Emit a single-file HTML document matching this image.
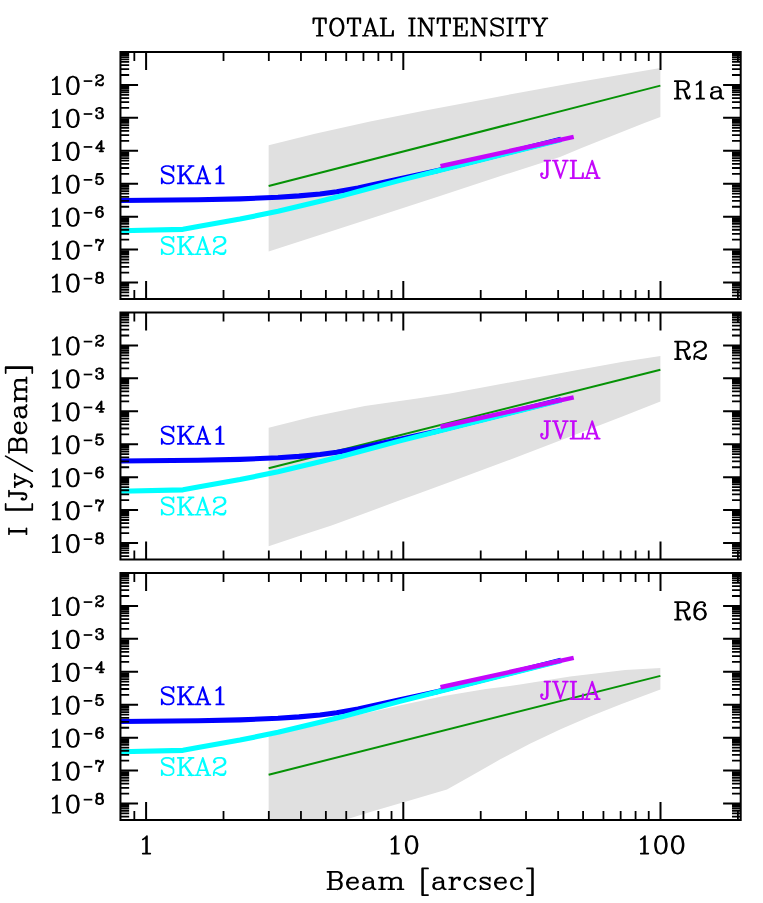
<!DOCTYPE html>
<html><head><meta charset="utf-8"><title>Total Intensity</title>
<style>html,body{margin:0;padding:0;background:#fff;}svg{display:block;}</style>
</head><body>
<svg width="763" height="903" viewBox="0 0 763 903">
<rect width="763" height="903" fill="#fff"/>
<defs><path id="h0" d="M6 -17 8 -18 11 -21 11 0M10 0 10 -20M15 0 6 0M24 -17 26 -20 29 -21 31 -21 34 -20 36 -17 37 -12 37 -9 36 -4 34 -1 31 0 29 0 26 -1 24 -4 23 -9 23 -12 24 -17M29 0 27 -1 26 -2 25 -4 24 -9 24 -12 25 -17 26 -19 27 -20 29 -21M31 0 33 -1 34 -2 35 -4 36 -9 36 -12 35 -17 34 -19 33 -20 31 -21" fill="none" stroke-linecap="round" stroke-linejoin="round" vector-effect="non-scaling-stroke"/><path id="h1" d="M12 -21 14 -20 15 -18 15 -15 14 -13 12 -12 15 -13 16 -15 16 -18 15 -20 12 -21 8 -21 5 -20 4 -18 4 -15 5 -13 8 -12 12 -12 15 -11 16 -10 17 -8 17 -4 16 -2 15 -1 12 0 8 0 5 -1 4 -2 3 -4 3 -8 4 -10 5 -11 8 -12 6 -11 5 -10 4 -8 4 -4 5 -2 6 -1 8 0M12 0 14 -1 15 -2 16 -4 16 -8 15 -10 14 -11 12 -12M8 -12 6 -13 5 -15 5 -18 6 -20 8 -21" fill="none" stroke-linecap="round" stroke-linejoin="round" vector-effect="non-scaling-stroke"/><path id="h2" d="M3 -15 3 -21M10 0 10 -5 11 -8 12 -10 16 -15 11 -10 10 -8 9 -5 9 0M4 -19 6 -20 8 -20 13 -18 8 -21 6 -21 4 -19 3 -17M16 -15 17 -18 17 -21 16 -19 15 -18 13 -18" fill="none" stroke-linecap="round" stroke-linejoin="round" vector-effect="non-scaling-stroke"/><path id="h3" d="M15 -18 14 -17 15 -16 16 -17 16 -18 15 -20 13 -21 10 -21 7 -20 5 -18 4 -16 3 -12 3 -6 4 -3 6 -1 9 0 11 0 14 -1 16 -3 17 -6 17 -7 16 -10 14 -12 11 -13 10 -13 7 -12 5 -10 4 -7M9 0 7 -1 5 -3 4 -6 4 -12 5 -16 6 -18 8 -20 10 -21M11 0 13 -1 15 -3 16 -6 16 -7 15 -10 13 -12 11 -13" fill="none" stroke-linecap="round" stroke-linejoin="round" vector-effect="non-scaling-stroke"/><path id="h4" d="M4 -4 5 -5 4 -6 3 -5 3 -4 4 -2 5 -1 8 0 11 0 14 -1 16 -3 17 -6 17 -8 16 -11 14 -13 11 -14 8 -14 5 -13 3 -11 5 -21 15 -21 10 -20 5 -20M11 0 13 -1 15 -3 16 -6 16 -8 15 -11 13 -13 11 -14" fill="none" stroke-linecap="round" stroke-linejoin="round" vector-effect="non-scaling-stroke"/><path id="h5" d="M18 -6 2 -6 13 -21 13 0M12 0 12 -19M16 0 9 0" fill="none" stroke-linecap="round" stroke-linejoin="round" vector-effect="non-scaling-stroke"/><path id="h6" d="M4 -4 5 -5 4 -6 3 -5 3 -4 4 -2 5 -1 8 0 12 0 14 -1 15 -2 16 -4 16 -7 15 -10M4 -17 5 -16 4 -15 3 -16 3 -17 4 -19 5 -20 8 -21 12 -21 15 -20 16 -18 16 -15 15 -13 12 -12 9 -12M12 0 15 -1 16 -2 17 -4 17 -7 16 -9 14 -11 12 -12 14 -13 15 -15 15 -18 14 -20 12 -21" fill="none" stroke-linecap="round" stroke-linejoin="round" vector-effect="non-scaling-stroke"/><path id="h7" d="M4 -17 5 -16 4 -15 3 -16 3 -17 4 -19 5 -20 8 -21 12 -21 14 -20 15 -19 16 -17 16 -15 15 -13 12 -11 6 -8 4 -6 3 -3 3 0M17 -3 16 -2 14 -1 11 -1 6 -3 11 0 15 0 16 -1 17 -3 17 -5M6 -3 4 -3 3 -2M12 -21 15 -20 16 -19 17 -17 17 -15 16 -13 13 -11 6 -8" fill="none" stroke-linecap="round" stroke-linejoin="round" vector-effect="non-scaling-stroke"/><path id="h8" d="M26 0 26 -21M25 0 25 -21M59 0 52 -21 45 0M68 -17 70 -18 73 -21 73 0M72 0 72 -20M58 0 52 -18M26 -8 39 -21M39 0 31 -12M38 0 30 -12M56 -6 47 -6M77 0 68 0M29 -21 22 -21M29 0 22 0M49 0 43 0M41 -21 35 -21M61 0 55 0M41 0 35 0M17 -21 16 -18 17 -15 17 -21M3 -6 4 -3 3 0 3 -6M4 -3 6 -1 9 0 12 0 15 -1 17 -3 17 -7 16 -9 15 -10 13 -11 7 -13 5 -14 3 -16 3 -18 5 -20 8 -21 11 -21 14 -20 16 -18M17 -7 15 -9 13 -10 7 -12 5 -13 4 -14 3 -16" fill="none" stroke-linecap="round" stroke-linejoin="round" vector-effect="non-scaling-stroke"/><path id="h9" d="M26 0 26 -21M25 0 25 -21M59 0 52 -21 45 0M58 0 52 -18M26 -8 39 -21M39 0 31 -12M38 0 30 -12M56 -6 47 -6M29 -21 22 -21M29 0 22 0M49 0 43 0M41 -21 35 -21M61 0 55 0M41 0 35 0M66 -17 67 -16 66 -15 65 -16 65 -17 66 -19 67 -20 70 -21 74 -21 76 -20 77 -19 78 -17 78 -15 77 -13 74 -11 68 -8 66 -6 65 -3 65 0M79 -3 78 -2 76 -1 73 -1 68 -3 73 0 77 0 78 -1 79 -3 79 -5M68 -3 66 -3 65 -2M17 -21 16 -18 17 -15 17 -21M3 -6 4 -3 3 0 3 -6M4 -3 6 -1 9 0 12 0 15 -1 17 -3 17 -7 16 -9 15 -10 13 -11 7 -13 5 -14 3 -16 3 -18 5 -20 8 -21 11 -21 14 -20 16 -18M17 -7 15 -9 13 -10 7 -12 5 -13 4 -14 3 -16M74 -21 77 -20 78 -19 79 -17 79 -15 78 -13 75 -11 68 -8" fill="none" stroke-linecap="round" stroke-linejoin="round" vector-effect="non-scaling-stroke"/><path id="h10" d="M40 0 40 -21M41 0 41 -21M70 0 63 -21 56 0M32 -21 25 0 18 -21M69 0 63 -18M25 -3 19 -21M3 -4 4 -5 3 -6 2 -5 2 -3 3 -1 5 0 7 0 8 -1 9 -4 9 -21M7 0 9 -1 10 -4 10 -21M51 0 52 -6 52 0 37 0M67 -6 58 -6M13 -21 6 -21M44 -21 37 -21M34 -21 28 -21M60 0 54 0M22 -21 16 -21M72 0 66 0" fill="none" stroke-linecap="round" stroke-linejoin="round" vector-effect="non-scaling-stroke"/><path id="h11" d="M6 0 6 -21M5 0 5 -21M28 -17 30 -18 33 -21 33 0M32 0 32 -20M6 -11 14 -11 17 -12 18 -13 19 -15 19 -17 18 -19 17 -20 14 -21 2 -21M37 0 28 0M9 0 2 0M20 -3 20 -2 19 0 17 0 16 -1 14 -8 13 -10 11 -11M56 -10 55 -9 49 -8 46 -7 45 -5 45 -3 46 -1 49 0 52 0 54 -1 56 -3 56 -12 55 -13 53 -14 49 -14 47 -13 46 -12 46 -11 47 -11 47 -12M56 -3 57 -1 59 0 60 0M59 0 58 -1 57 -3 57 -10 56 -12M20 -2 19 -1 18 -1 17 -2 14 -9 13 -10M14 -11 16 -12 17 -13 18 -15 18 -17 17 -19 16 -20 14 -21M49 0 47 -1 46 -3 46 -5 47 -7 49 -8" fill="none" stroke-linecap="round" stroke-linejoin="round" vector-effect="non-scaling-stroke"/><path id="h12" d="M6 0 6 -21M5 0 5 -21M6 -11 14 -11 17 -12 18 -13 19 -15 19 -17 18 -19 17 -20 14 -21 2 -21M9 0 2 0M26 -17 27 -16 26 -15 25 -16 25 -17 26 -19 27 -20 30 -21 34 -21 36 -20 37 -19 38 -17 38 -15 37 -13 34 -11 28 -8 26 -6 25 -3 25 0M39 -3 38 -2 36 -1 33 -1 28 -3 33 0 37 0 38 -1 39 -3 39 -5M20 -3 20 -2 19 0 17 0 16 -1 14 -8 13 -10 11 -11M28 -3 26 -3 25 -2M20 -2 19 -1 18 -1 17 -2 14 -9 13 -10M34 -21 37 -20 38 -19 39 -17 39 -15 38 -13 35 -11 28 -8M14 -11 16 -12 17 -13 18 -15 18 -17 17 -19 16 -20 14 -21" fill="none" stroke-linecap="round" stroke-linejoin="round" vector-effect="non-scaling-stroke"/><path id="h13" d="M6 0 6 -21M5 0 5 -21M6 -11 14 -11 17 -12 18 -13 19 -15 19 -17 18 -19 17 -20 14 -21 2 -21M9 0 2 0M37 -18 36 -17 37 -16 38 -17 38 -18 37 -20 35 -21 32 -21 29 -20 27 -18 26 -16 25 -12 25 -6 26 -3 28 -1 31 0 33 0 36 -1 38 -3 39 -6 39 -7 38 -10 36 -12 33 -13 32 -13 29 -12 27 -10 26 -7M20 -3 20 -2 19 0 17 0 16 -1 14 -8 13 -10 11 -11M20 -2 19 -1 18 -1 17 -2 14 -9 13 -10M31 0 29 -1 27 -3 26 -6 26 -12 27 -16 28 -18 30 -20 32 -21M33 0 35 -1 37 -3 38 -6 38 -7 37 -10 35 -12 33 -13M14 -11 16 -12 17 -13 18 -15 18 -17 17 -19 16 -20 14 -21" fill="none" stroke-linecap="round" stroke-linejoin="round" vector-effect="non-scaling-stroke"/><path id="h14" d="M131 -19 143 0 143 -21M194 -19 206 0 206 -21M173 0 173 -21M9 0 9 -21M10 0 10 -21M50 0 50 -21M51 0 51 -21M77 0 70 -21 63 0M85 0 85 -21M86 0 86 -21M119 0 119 -21M120 0 120 -21M130 0 130 -21M157 0 157 -21M158 0 158 -21M172 0 172 -21M193 0 193 -21M236 0 236 -21M237 0 237 -21M251 0 251 -21M252 0 252 -21M127 -21 131 -21 143 -2M190 -21 194 -21 206 -2M76 0 70 -18M184 -21 185 -15 185 -21 169 -21M184 0 185 -6 185 0 169 0M96 0 97 -6 97 0 82 0M279 -21 272 -10 265 -21M271 0 271 -10 264 -21M272 -10 272 0M74 -6 65 -6M179 -7 179 -15M16 -21 17 -15 17 -21 2 -21 2 -15 3 -21M57 -21 58 -15 58 -21 43 -21 43 -15 44 -21M164 -21 165 -15 165 -21 150 -21 150 -15 151 -21M258 -21 259 -15 259 -21 244 -21 244 -15 245 -21M89 -21 82 -21M123 -21 116 -21M240 -21 233 -21M13 0 6 0M54 0 47 0M123 0 116 0M161 0 154 0M240 0 233 0M255 0 248 0M275 0 268 0M146 -21 140 -21M209 -21 203 -21M67 0 61 0M133 0 127 0M196 0 190 0M179 -11 173 -11M281 -21 275 -21M79 0 73 0M268 -21 262 -21M228 -21 227 -18 228 -15 228 -21M214 -6 215 -3 214 0 214 -6M215 -3 217 -1 220 0 223 0 226 -1 228 -3 228 -7 227 -9 226 -10 224 -11 218 -13 216 -14 214 -16 214 -18 216 -20 219 -21 222 -21 225 -20 227 -18M228 -7 226 -9 224 -10 218 -12 216 -13 215 -14 214 -16M23 -16 24 -18 26 -20 29 -21 31 -21 34 -20 36 -18 37 -16 38 -12 38 -9 37 -5 36 -3 34 -1 31 0 29 0 26 -1 24 -3 23 -5 22 -9 22 -12 23 -16M29 0 27 -1 25 -3 24 -5 23 -9 23 -12 24 -16 25 -18 27 -20 29 -21M31 0 33 -1 35 -3 36 -5 37 -9 37 -12 36 -16 35 -18 33 -20 31 -21" fill="none" stroke-linecap="round" stroke-linejoin="round" vector-effect="non-scaling-stroke"/><path id="h15" d="M6 -17 8 -18 11 -21 11 0M10 0 10 -20M15 0 6 0" fill="none" stroke-linecap="round" stroke-linejoin="round" vector-effect="non-scaling-stroke"/><path id="h16" d="M6 -17 8 -18 11 -21 11 0M10 0 10 -20M15 0 6 0M24 -17 26 -20 29 -21 31 -21 34 -20 36 -17 37 -12 37 -9 36 -4 34 -1 31 0 29 0 26 -1 24 -4 23 -9 23 -12 24 -17M29 0 27 -1 26 -2 25 -4 24 -9 24 -12 25 -17 26 -19 27 -20 29 -21M31 0 33 -1 34 -2 35 -4 36 -9 36 -12 35 -17 34 -19 33 -20 31 -21M44 -17 46 -20 49 -21 51 -21 54 -20 56 -17 57 -12 57 -9 56 -4 54 -1 51 0 49 0 46 -1 44 -4 43 -9 43 -12 44 -17M49 0 47 -1 46 -2 45 -4 44 -9 44 -12 45 -17 46 -19 47 -20 49 -21M51 0 53 -1 54 -2 55 -4 56 -9 56 -12 55 -17 54 -19 53 -20 51 -21" fill="none" stroke-linecap="round" stroke-linejoin="round" vector-effect="non-scaling-stroke"/><path id="h17" d="M115 7 115 -25M244 7 244 -25M6 0 6 -21M5 0 5 -21M146 -14 150 -14 150 0M66 0 66 -14M63 -14 67 -14 67 0M149 0 149 -14M6 -11 14 -11 17 -12 18 -13 19 -15 19 -17 18 -19 17 -20 14 -21 2 -21M14 -21 16 -20 17 -19 18 -17 18 -15 17 -13 16 -12 14 -11 17 -10 18 -9 19 -7 19 -4 18 -2 17 -1 14 0 2 0M67 -11 69 -13 72 -14 74 -14 77 -13 78 -11 78 0M74 -14 76 -13 77 -11 77 0M89 0 89 -11 88 -13 85 -14 87 -13 88 -11 88 0M121 7 114 7 114 -25 121 -25M238 7 245 7 245 -25 238 -25M70 0 63 0M81 0 74 0M92 0 85 0M153 0 146 0M38 -3 36 -1 33 0 31 0 28 -1 26 -3 25 -6 25 -8 26 -11 28 -13 31 -14 34 -14 36 -13 37 -11 37 -8M213 -3 211 -1 208 0 206 0 203 -1 201 -3 200 -6 200 -8 201 -11 203 -13 206 -14 209 -14 211 -13 212 -11 212 -8M158 -13 157 -12 158 -11 159 -12 159 -13 158 -14 155 -14 153 -13 151 -11 150 -8M176 -11 175 -10 176 -9 177 -10 177 -11 175 -13 173 -14 170 -14 167 -13 165 -11 164 -8 164 -6 165 -3 167 -1 170 0 172 0 175 -1 177 -3M231 -11 230 -10 231 -9 232 -10 232 -11 230 -13 228 -14 225 -14 222 -13 220 -11 219 -8 219 -6 220 -3 222 -1 225 0 227 0 230 -1 232 -3M55 -10 54 -9 48 -8 45 -7 44 -5 44 -3 45 -1 48 0 51 0 53 -1 55 -3 55 -12 54 -13 52 -14 48 -14 46 -13 45 -12 45 -11 46 -11 46 -12M138 -10 137 -9 131 -8 128 -7 127 -5 127 -3 128 -1 131 0 134 0 136 -1 138 -3 138 -12 137 -13 135 -14 131 -14 129 -13 128 -12 128 -11 129 -11 129 -12M55 -3 56 -1 58 0 59 0M138 -3 139 -1 141 0 142 0M184 -2 183 -4 183 0 184 -2 185 -1 187 0 191 0 193 -1 194 -2 194 -5 193 -6 184 -10 183 -11M193 -12 194 -14 194 -10 193 -12 192 -13 190 -14 186 -14 184 -13 183 -12 183 -10 184 -9 193 -5 194 -4M31 -14 29 -13 27 -11 26 -8 38 -8 38 -10 37 -12 36 -13M206 -14 204 -13 202 -11 201 -8 213 -8 213 -10 212 -12 211 -13M58 0 57 -1 56 -3 56 -10 55 -12M141 0 140 -1 139 -3 139 -10 138 -12M78 -11 80 -13 83 -14 85 -14M170 0 168 -1 166 -3 165 -6 165 -8 166 -11 168 -13 170 -14M225 0 223 -1 221 -3 220 -6 220 -8 221 -11 223 -13 225 -14M14 0 16 -1 17 -2 18 -4 18 -7 17 -9 16 -10 14 -11M31 0 29 -1 27 -3 26 -6 26 -8M206 0 204 -1 202 -3 201 -6 201 -8M48 0 46 -1 45 -3 45 -5 46 -7 48 -8M131 0 129 -1 128 -3 128 -5 129 -7 131 -8" fill="none" stroke-linecap="round" stroke-linejoin="round" vector-effect="non-scaling-stroke"/><path id="h18" d="M32 7 32 -25M200 7 200 -25M77 7 95 -25M103 0 103 -21M5 0 5 -21M6 0 6 -21M102 0 102 -21M44 -4 45 -5 44 -6 43 -5 43 -3 44 -1 46 0 48 0 49 -1 50 -4 50 -21M48 0 50 -1 51 -4 51 -21M65 2 72 -14M163 0 163 -14M160 -14 164 -14 164 0M60 6 59 5 58 6 59 7 60 7 62 6 64 4 66 0 60 -14M66 -2 61 -14M103 -11 111 -11 114 -12 115 -13 116 -15 116 -17 115 -19 114 -20 111 -21 99 -21M111 -21 113 -20 114 -19 115 -17 115 -15 114 -13 113 -12 111 -11 114 -10 115 -9 116 -7 116 -4 115 -2 114 -1 111 0 99 0M164 -11 166 -13 169 -14 171 -14 174 -13 175 -11 175 0M171 -14 173 -13 174 -11 174 0M186 0 186 -11 185 -13 182 -14 184 -13 185 -11 185 0M38 7 31 7 31 -25 38 -25M194 7 201 7 201 -25 194 -25M9 -21 2 -21M54 -21 47 -21M9 0 2 0M167 0 160 0M178 0 171 0M189 0 182 0M74 -14 68 -14M64 -14 58 -14M135 -3 133 -1 130 0 128 0 125 -1 123 -3 122 -6 122 -8 123 -11 125 -13 128 -14 131 -14 133 -13 134 -11 134 -8M152 -10 151 -9 145 -8 142 -7 141 -5 141 -3 142 -1 145 0 148 0 150 -1 152 -3 152 -12 151 -13 149 -14 145 -14 143 -13 142 -12 142 -11 143 -11 143 -12M152 -3 153 -1 155 0 156 0M128 -14 126 -13 124 -11 123 -8 135 -8 135 -10 134 -12 133 -13M155 0 154 -1 153 -3 153 -10 152 -12M175 -11 177 -13 180 -14 182 -14M111 0 113 -1 114 -2 115 -4 115 -7 114 -9 113 -10 111 -11M128 0 126 -1 124 -3 123 -6 123 -8M145 0 143 -1 142 -3 142 -5 143 -7 145 -8" fill="none" stroke-linecap="round" stroke-linejoin="round" vector-effect="non-scaling-stroke"/></defs>
<g>
<clipPath id="c0"><rect x="120.45" y="52.0" width="620.25" height="247.0"/></clipPath>
<g clip-path="url(#c0)">
<polygon points="268.65,145.30 315.00,133.80 370.10,121.60 425.20,110.60 460.00,104.00 515.00,93.50 570.10,83.60 625.20,73.90 660.40,67.90 660.40,117.00 644.40,123.00 612.90,135.50 581.50,148.10 560.00,156.90 502.90,175.30 440.00,195.90 380.00,215.50 268.65,251.50" fill="#e0e0e0"/>
<polyline points="268.65,186.00 660.40,85.60" fill="none" stroke="#069206" stroke-width="2.0"/>
<polyline points="120.40,200.45 198.00,199.80 240.00,198.85 278.00,197.30 299.00,195.90 320.00,194.00 336.70,191.70 358.00,188.00 400.00,178.75 438.00,170.40 561.00,139.30" fill="none" stroke="#0000ff" stroke-width="5.1" stroke-linejoin="round"/>
<polyline points="120.40,230.70 183.00,229.35 198.00,226.50 240.00,219.10 278.00,211.30 299.00,206.30 320.00,201.20 341.00,196.10 358.00,191.50 400.00,180.40 438.00,170.80 561.00,139.90" fill="none" stroke="#00ffff" stroke-width="5.1" stroke-linejoin="round"/>
<polyline points="440.50,166.30 573.70,136.85" fill="none" stroke="#c408fa" stroke-width="4.5"/>
</g>
<path d="M146.10 52.0v18.0M146.10 299.0v-18.0M403.30 52.0v18.0M403.30 299.0v-18.0M660.50 52.0v18.0M660.50 299.0v-18.0M120.45 282.51h17.6M740.7 282.51h-17.6M120.45 249.58h17.6M740.7 249.58h-17.6M120.45 216.65h17.6M740.7 216.65h-17.6M120.45 183.72h17.6M740.7 183.72h-17.6M120.45 150.79h17.6M740.7 150.79h-17.6M120.45 117.86h17.6M740.7 117.86h-17.6M120.45 84.93h17.6M740.7 84.93h-17.6" stroke="#000" stroke-width="2.0" fill="none"/>
<path d="M134.33 52.0v8.899999999999999M134.33 299.0v-8.899999999999999M223.52 52.0v8.899999999999999M223.52 299.0v-8.899999999999999M268.82 52.0v8.899999999999999M268.82 299.0v-8.899999999999999M300.95 52.0v8.899999999999999M300.95 299.0v-8.899999999999999M325.88 52.0v8.899999999999999M325.88 299.0v-8.899999999999999M346.24 52.0v8.899999999999999M346.24 299.0v-8.899999999999999M363.46 52.0v8.899999999999999M363.46 299.0v-8.899999999999999M378.37 52.0v8.899999999999999M378.37 299.0v-8.899999999999999M391.53 52.0v8.899999999999999M391.53 299.0v-8.899999999999999M480.72 52.0v8.899999999999999M480.72 299.0v-8.899999999999999M526.02 52.0v8.899999999999999M526.02 299.0v-8.899999999999999M558.15 52.0v8.899999999999999M558.15 299.0v-8.899999999999999M583.08 52.0v8.899999999999999M583.08 299.0v-8.899999999999999M603.44 52.0v8.899999999999999M603.44 299.0v-8.899999999999999M620.66 52.0v8.899999999999999M620.66 299.0v-8.899999999999999M635.57 52.0v8.899999999999999M635.57 299.0v-8.899999999999999M648.73 52.0v8.899999999999999M648.73 299.0v-8.899999999999999M737.92 52.0v8.899999999999999M737.92 299.0v-8.899999999999999M120.45 295.61h8.7M740.7 295.61h-8.7M120.45 292.42h8.7M740.7 292.42h-8.7M120.45 289.82h8.7M740.7 289.82h-8.7M120.45 287.61h8.7M740.7 287.61h-8.7M120.45 285.70h8.7M740.7 285.70h-8.7M120.45 284.02h8.7M740.7 284.02h-8.7M120.45 272.60h8.7M740.7 272.60h-8.7M120.45 266.80h8.7M740.7 266.80h-8.7M120.45 262.68h8.7M740.7 262.68h-8.7M120.45 259.49h8.7M740.7 259.49h-8.7M120.45 256.89h8.7M740.7 256.89h-8.7M120.45 254.68h8.7M740.7 254.68h-8.7M120.45 252.77h8.7M740.7 252.77h-8.7M120.45 251.09h8.7M740.7 251.09h-8.7M120.45 239.67h8.7M740.7 239.67h-8.7M120.45 233.87h8.7M740.7 233.87h-8.7M120.45 229.75h8.7M740.7 229.75h-8.7M120.45 226.56h8.7M740.7 226.56h-8.7M120.45 223.96h8.7M740.7 223.96h-8.7M120.45 221.75h8.7M740.7 221.75h-8.7M120.45 219.84h8.7M740.7 219.84h-8.7M120.45 218.16h8.7M740.7 218.16h-8.7M120.45 206.74h8.7M740.7 206.74h-8.7M120.45 200.94h8.7M740.7 200.94h-8.7M120.45 196.82h8.7M740.7 196.82h-8.7M120.45 193.63h8.7M740.7 193.63h-8.7M120.45 191.03h8.7M740.7 191.03h-8.7M120.45 188.82h8.7M740.7 188.82h-8.7M120.45 186.91h8.7M740.7 186.91h-8.7M120.45 185.23h8.7M740.7 185.23h-8.7M120.45 173.81h8.7M740.7 173.81h-8.7M120.45 168.01h8.7M740.7 168.01h-8.7M120.45 163.89h8.7M740.7 163.89h-8.7M120.45 160.70h8.7M740.7 160.70h-8.7M120.45 158.10h8.7M740.7 158.10h-8.7M120.45 155.89h8.7M740.7 155.89h-8.7M120.45 153.98h8.7M740.7 153.98h-8.7M120.45 152.30h8.7M740.7 152.30h-8.7M120.45 140.88h8.7M740.7 140.88h-8.7M120.45 135.08h8.7M740.7 135.08h-8.7M120.45 130.96h8.7M740.7 130.96h-8.7M120.45 127.77h8.7M740.7 127.77h-8.7M120.45 125.17h8.7M740.7 125.17h-8.7M120.45 122.96h8.7M740.7 122.96h-8.7M120.45 121.05h8.7M740.7 121.05h-8.7M120.45 119.37h8.7M740.7 119.37h-8.7M120.45 107.95h8.7M740.7 107.95h-8.7M120.45 102.15h8.7M740.7 102.15h-8.7M120.45 98.03h8.7M740.7 98.03h-8.7M120.45 94.84h8.7M740.7 94.84h-8.7M120.45 92.24h8.7M740.7 92.24h-8.7M120.45 90.03h8.7M740.7 90.03h-8.7M120.45 88.12h8.7M740.7 88.12h-8.7M120.45 86.44h8.7M740.7 86.44h-8.7M120.45 75.02h8.7M740.7 75.02h-8.7M120.45 69.22h8.7M740.7 69.22h-8.7M120.45 65.10h8.7M740.7 65.10h-8.7M120.45 61.91h8.7M740.7 61.91h-8.7M120.45 59.31h8.7M740.7 59.31h-8.7M120.45 57.10h8.7M740.7 57.10h-8.7M120.45 55.19h8.7M740.7 55.19h-8.7M120.45 53.51h8.7M740.7 53.51h-8.7" stroke="#000" stroke-width="1.8" fill="none"/>
<rect x="120.45" y="52.0" width="620.25" height="247.0" fill="none" stroke="#000" stroke-width="2.0"/>
<use href="#h0" transform="translate(47.72 291.76) scale(0.8390 0.8320)" stroke="#000" stroke-width="1.7"/>
<path d="M83.7 278.66H92.3" stroke="#000" stroke-width="1.7"/>
<use href="#h1" transform="translate(94.54 283.06) scale(0.5030 0.4988)" stroke="#000" stroke-width="1.7"/>
<use href="#h0" transform="translate(47.72 258.83) scale(0.8390 0.8320)" stroke="#000" stroke-width="1.7"/>
<path d="M83.7 245.73H92.3" stroke="#000" stroke-width="1.7"/>
<use href="#h2" transform="translate(94.54 250.13) scale(0.5030 0.4988)" stroke="#000" stroke-width="1.7"/>
<use href="#h0" transform="translate(47.72 225.90) scale(0.8390 0.8320)" stroke="#000" stroke-width="1.7"/>
<path d="M83.7 212.80H92.3" stroke="#000" stroke-width="1.7"/>
<use href="#h3" transform="translate(94.54 217.20) scale(0.5030 0.4988)" stroke="#000" stroke-width="1.7"/>
<use href="#h0" transform="translate(47.72 192.97) scale(0.8390 0.8320)" stroke="#000" stroke-width="1.7"/>
<path d="M83.7 179.87H92.3" stroke="#000" stroke-width="1.7"/>
<use href="#h4" transform="translate(94.54 184.27) scale(0.5030 0.4988)" stroke="#000" stroke-width="1.7"/>
<use href="#h0" transform="translate(47.72 160.04) scale(0.8390 0.8320)" stroke="#000" stroke-width="1.7"/>
<path d="M83.7 146.94H92.3" stroke="#000" stroke-width="1.7"/>
<use href="#h5" transform="translate(95.04 151.34) scale(0.5030 0.4988)" stroke="#000" stroke-width="1.7"/>
<use href="#h0" transform="translate(47.72 127.11) scale(0.8390 0.8320)" stroke="#000" stroke-width="1.7"/>
<path d="M83.7 114.01H92.3" stroke="#000" stroke-width="1.7"/>
<use href="#h6" transform="translate(94.54 118.41) scale(0.5030 0.4988)" stroke="#000" stroke-width="1.7"/>
<use href="#h0" transform="translate(47.72 94.18) scale(0.8390 0.8320)" stroke="#000" stroke-width="1.7"/>
<path d="M83.7 81.08H92.3" stroke="#000" stroke-width="1.7"/>
<use href="#h7" transform="translate(94.54 85.48) scale(0.5030 0.4988)" stroke="#000" stroke-width="1.7"/>
<use href="#h8" transform="translate(159.23 183.45) scale(0.8390 0.8320)" stroke="#0000ff" stroke-width="1.7"/>
<use href="#h9" transform="translate(159.23 254.25) scale(0.8390 0.8320)" stroke="#00ffff" stroke-width="1.7"/>
<use href="#h10" transform="translate(539.37 178.05) scale(0.8390 0.8320)" stroke="#c408fa" stroke-width="1.7"/>
</g>
<g>
<clipPath id="c1"><rect x="120.45" y="312.5" width="620.25" height="247.0"/></clipPath>
<g clip-path="url(#c1)">
<polygon points="268.65,427.80 312.40,416.80 364.80,406.10 417.30,398.40 450.00,393.50 507.70,382.80 565.30,372.20 623.00,361.70 660.40,356.10 660.40,401.50 623.00,416.30 565.30,438.60 507.70,460.60 450.00,482.00 420.00,492.90 394.40,502.30 362.90,514.00 331.50,525.40 300.00,535.80 268.65,546.30" fill="#e0e0e0"/>
<polyline points="268.65,468.20 660.40,369.75" fill="none" stroke="#069206" stroke-width="2.0"/>
<polyline points="120.40,460.95 198.00,460.30 240.00,459.35 278.00,457.80 299.00,456.40 320.00,454.50 336.70,452.20 358.00,448.50 400.00,439.25 438.00,430.90 561.00,399.80" fill="none" stroke="#0000ff" stroke-width="5.1" stroke-linejoin="round"/>
<polyline points="120.40,491.20 183.00,489.85 198.00,487.00 240.00,479.60 278.00,471.80 299.00,466.80 320.00,461.70 341.00,456.60 358.00,452.00 400.00,440.90 438.00,431.30 561.00,400.40" fill="none" stroke="#00ffff" stroke-width="5.1" stroke-linejoin="round"/>
<polyline points="440.50,426.80 573.70,397.35" fill="none" stroke="#c408fa" stroke-width="4.5"/>
</g>
<path d="M146.10 312.5v18.0M146.10 559.5v-18.0M403.30 312.5v18.0M403.30 559.5v-18.0M660.50 312.5v18.0M660.50 559.5v-18.0M120.45 543.01h17.6M740.7 543.01h-17.6M120.45 510.08h17.6M740.7 510.08h-17.6M120.45 477.15h17.6M740.7 477.15h-17.6M120.45 444.22h17.6M740.7 444.22h-17.6M120.45 411.29h17.6M740.7 411.29h-17.6M120.45 378.36h17.6M740.7 378.36h-17.6M120.45 345.43h17.6M740.7 345.43h-17.6" stroke="#000" stroke-width="2.0" fill="none"/>
<path d="M134.33 312.5v8.899999999999999M134.33 559.5v-8.899999999999999M223.52 312.5v8.899999999999999M223.52 559.5v-8.899999999999999M268.82 312.5v8.899999999999999M268.82 559.5v-8.899999999999999M300.95 312.5v8.899999999999999M300.95 559.5v-8.899999999999999M325.88 312.5v8.899999999999999M325.88 559.5v-8.899999999999999M346.24 312.5v8.899999999999999M346.24 559.5v-8.899999999999999M363.46 312.5v8.899999999999999M363.46 559.5v-8.899999999999999M378.37 312.5v8.899999999999999M378.37 559.5v-8.899999999999999M391.53 312.5v8.899999999999999M391.53 559.5v-8.899999999999999M480.72 312.5v8.899999999999999M480.72 559.5v-8.899999999999999M526.02 312.5v8.899999999999999M526.02 559.5v-8.899999999999999M558.15 312.5v8.899999999999999M558.15 559.5v-8.899999999999999M583.08 312.5v8.899999999999999M583.08 559.5v-8.899999999999999M603.44 312.5v8.899999999999999M603.44 559.5v-8.899999999999999M620.66 312.5v8.899999999999999M620.66 559.5v-8.899999999999999M635.57 312.5v8.899999999999999M635.57 559.5v-8.899999999999999M648.73 312.5v8.899999999999999M648.73 559.5v-8.899999999999999M737.92 312.5v8.899999999999999M737.92 559.5v-8.899999999999999M120.45 556.11h8.7M740.7 556.11h-8.7M120.45 552.92h8.7M740.7 552.92h-8.7M120.45 550.32h8.7M740.7 550.32h-8.7M120.45 548.11h8.7M740.7 548.11h-8.7M120.45 546.20h8.7M740.7 546.20h-8.7M120.45 544.52h8.7M740.7 544.52h-8.7M120.45 533.10h8.7M740.7 533.10h-8.7M120.45 527.30h8.7M740.7 527.30h-8.7M120.45 523.18h8.7M740.7 523.18h-8.7M120.45 519.99h8.7M740.7 519.99h-8.7M120.45 517.39h8.7M740.7 517.39h-8.7M120.45 515.18h8.7M740.7 515.18h-8.7M120.45 513.27h8.7M740.7 513.27h-8.7M120.45 511.59h8.7M740.7 511.59h-8.7M120.45 500.17h8.7M740.7 500.17h-8.7M120.45 494.37h8.7M740.7 494.37h-8.7M120.45 490.25h8.7M740.7 490.25h-8.7M120.45 487.06h8.7M740.7 487.06h-8.7M120.45 484.46h8.7M740.7 484.46h-8.7M120.45 482.25h8.7M740.7 482.25h-8.7M120.45 480.34h8.7M740.7 480.34h-8.7M120.45 478.66h8.7M740.7 478.66h-8.7M120.45 467.24h8.7M740.7 467.24h-8.7M120.45 461.44h8.7M740.7 461.44h-8.7M120.45 457.32h8.7M740.7 457.32h-8.7M120.45 454.13h8.7M740.7 454.13h-8.7M120.45 451.53h8.7M740.7 451.53h-8.7M120.45 449.32h8.7M740.7 449.32h-8.7M120.45 447.41h8.7M740.7 447.41h-8.7M120.45 445.73h8.7M740.7 445.73h-8.7M120.45 434.31h8.7M740.7 434.31h-8.7M120.45 428.51h8.7M740.7 428.51h-8.7M120.45 424.39h8.7M740.7 424.39h-8.7M120.45 421.20h8.7M740.7 421.20h-8.7M120.45 418.60h8.7M740.7 418.60h-8.7M120.45 416.39h8.7M740.7 416.39h-8.7M120.45 414.48h8.7M740.7 414.48h-8.7M120.45 412.80h8.7M740.7 412.80h-8.7M120.45 401.38h8.7M740.7 401.38h-8.7M120.45 395.58h8.7M740.7 395.58h-8.7M120.45 391.46h8.7M740.7 391.46h-8.7M120.45 388.27h8.7M740.7 388.27h-8.7M120.45 385.67h8.7M740.7 385.67h-8.7M120.45 383.46h8.7M740.7 383.46h-8.7M120.45 381.55h8.7M740.7 381.55h-8.7M120.45 379.87h8.7M740.7 379.87h-8.7M120.45 368.45h8.7M740.7 368.45h-8.7M120.45 362.65h8.7M740.7 362.65h-8.7M120.45 358.53h8.7M740.7 358.53h-8.7M120.45 355.34h8.7M740.7 355.34h-8.7M120.45 352.74h8.7M740.7 352.74h-8.7M120.45 350.53h8.7M740.7 350.53h-8.7M120.45 348.62h8.7M740.7 348.62h-8.7M120.45 346.94h8.7M740.7 346.94h-8.7M120.45 335.52h8.7M740.7 335.52h-8.7M120.45 329.72h8.7M740.7 329.72h-8.7M120.45 325.60h8.7M740.7 325.60h-8.7M120.45 322.41h8.7M740.7 322.41h-8.7M120.45 319.81h8.7M740.7 319.81h-8.7M120.45 317.60h8.7M740.7 317.60h-8.7M120.45 315.69h8.7M740.7 315.69h-8.7M120.45 314.01h8.7M740.7 314.01h-8.7" stroke="#000" stroke-width="1.8" fill="none"/>
<rect x="120.45" y="312.5" width="620.25" height="247.0" fill="none" stroke="#000" stroke-width="2.0"/>
<use href="#h0" transform="translate(47.72 552.26) scale(0.8390 0.8320)" stroke="#000" stroke-width="1.7"/>
<path d="M83.7 539.16H92.3" stroke="#000" stroke-width="1.7"/>
<use href="#h1" transform="translate(94.54 543.56) scale(0.5030 0.4988)" stroke="#000" stroke-width="1.7"/>
<use href="#h0" transform="translate(47.72 519.33) scale(0.8390 0.8320)" stroke="#000" stroke-width="1.7"/>
<path d="M83.7 506.23H92.3" stroke="#000" stroke-width="1.7"/>
<use href="#h2" transform="translate(94.54 510.63) scale(0.5030 0.4988)" stroke="#000" stroke-width="1.7"/>
<use href="#h0" transform="translate(47.72 486.40) scale(0.8390 0.8320)" stroke="#000" stroke-width="1.7"/>
<path d="M83.7 473.30H92.3" stroke="#000" stroke-width="1.7"/>
<use href="#h3" transform="translate(94.54 477.70) scale(0.5030 0.4988)" stroke="#000" stroke-width="1.7"/>
<use href="#h0" transform="translate(47.72 453.47) scale(0.8390 0.8320)" stroke="#000" stroke-width="1.7"/>
<path d="M83.7 440.37H92.3" stroke="#000" stroke-width="1.7"/>
<use href="#h4" transform="translate(94.54 444.77) scale(0.5030 0.4988)" stroke="#000" stroke-width="1.7"/>
<use href="#h0" transform="translate(47.72 420.54) scale(0.8390 0.8320)" stroke="#000" stroke-width="1.7"/>
<path d="M83.7 407.44H92.3" stroke="#000" stroke-width="1.7"/>
<use href="#h5" transform="translate(95.04 411.84) scale(0.5030 0.4988)" stroke="#000" stroke-width="1.7"/>
<use href="#h0" transform="translate(47.72 387.61) scale(0.8390 0.8320)" stroke="#000" stroke-width="1.7"/>
<path d="M83.7 374.51H92.3" stroke="#000" stroke-width="1.7"/>
<use href="#h6" transform="translate(94.54 378.91) scale(0.5030 0.4988)" stroke="#000" stroke-width="1.7"/>
<use href="#h0" transform="translate(47.72 354.68) scale(0.8390 0.8320)" stroke="#000" stroke-width="1.7"/>
<path d="M83.7 341.58H92.3" stroke="#000" stroke-width="1.7"/>
<use href="#h7" transform="translate(94.54 345.98) scale(0.5030 0.4988)" stroke="#000" stroke-width="1.7"/>
<use href="#h8" transform="translate(159.23 443.95) scale(0.8390 0.8320)" stroke="#0000ff" stroke-width="1.7"/>
<use href="#h9" transform="translate(159.23 514.75) scale(0.8390 0.8320)" stroke="#00ffff" stroke-width="1.7"/>
<use href="#h10" transform="translate(539.37 438.55) scale(0.8390 0.8320)" stroke="#c408fa" stroke-width="1.7"/>
</g>
<g>
<clipPath id="c2"><rect x="120.45" y="573.0" width="620.25" height="247.0"/></clipPath>
<g clip-path="url(#c2)">
<polygon points="268.65,736.40 360.00,714.50 401.90,705.00 443.90,695.90 485.80,689.10 520.00,684.60 570.10,676.40 625.20,670.00 660.40,667.90 660.40,689.60 620.90,704.20 590.70,716.20 560.60,729.20 530.40,743.60 500.30,759.30 470.10,776.60 447.00,789.60 413.90,799.20 371.90,811.40 348.50,818.80 311.00,830.00 268.65,830.00" fill="#e0e0e0"/>
<polyline points="268.65,774.70 660.40,675.90" fill="none" stroke="#069206" stroke-width="2.0"/>
<polyline points="120.40,721.45 198.00,720.80 240.00,719.85 278.00,718.30 299.00,716.90 320.00,715.00 336.70,712.70 358.00,709.00 400.00,699.75 438.00,691.40 561.00,660.30" fill="none" stroke="#0000ff" stroke-width="5.1" stroke-linejoin="round"/>
<polyline points="120.40,751.70 183.00,750.35 198.00,747.50 240.00,740.10 278.00,732.30 299.00,727.30 320.00,722.20 341.00,717.10 358.00,712.50 400.00,701.40 438.00,691.80 561.00,660.90" fill="none" stroke="#00ffff" stroke-width="5.1" stroke-linejoin="round"/>
<polyline points="440.50,687.30 573.70,657.85" fill="none" stroke="#c408fa" stroke-width="4.5"/>
</g>
<path d="M146.10 573.0v18.0M146.10 820.0v-18.0M403.30 573.0v18.0M403.30 820.0v-18.0M660.50 573.0v18.0M660.50 820.0v-18.0M120.45 803.51h17.6M740.7 803.51h-17.6M120.45 770.58h17.6M740.7 770.58h-17.6M120.45 737.65h17.6M740.7 737.65h-17.6M120.45 704.72h17.6M740.7 704.72h-17.6M120.45 671.79h17.6M740.7 671.79h-17.6M120.45 638.86h17.6M740.7 638.86h-17.6M120.45 605.93h17.6M740.7 605.93h-17.6" stroke="#000" stroke-width="2.0" fill="none"/>
<path d="M134.33 573.0v8.899999999999999M134.33 820.0v-8.899999999999999M223.52 573.0v8.899999999999999M223.52 820.0v-8.899999999999999M268.82 573.0v8.899999999999999M268.82 820.0v-8.899999999999999M300.95 573.0v8.899999999999999M300.95 820.0v-8.899999999999999M325.88 573.0v8.899999999999999M325.88 820.0v-8.899999999999999M346.24 573.0v8.899999999999999M346.24 820.0v-8.899999999999999M363.46 573.0v8.899999999999999M363.46 820.0v-8.899999999999999M378.37 573.0v8.899999999999999M378.37 820.0v-8.899999999999999M391.53 573.0v8.899999999999999M391.53 820.0v-8.899999999999999M480.72 573.0v8.899999999999999M480.72 820.0v-8.899999999999999M526.02 573.0v8.899999999999999M526.02 820.0v-8.899999999999999M558.15 573.0v8.899999999999999M558.15 820.0v-8.899999999999999M583.08 573.0v8.899999999999999M583.08 820.0v-8.899999999999999M603.44 573.0v8.899999999999999M603.44 820.0v-8.899999999999999M620.66 573.0v8.899999999999999M620.66 820.0v-8.899999999999999M635.57 573.0v8.899999999999999M635.57 820.0v-8.899999999999999M648.73 573.0v8.899999999999999M648.73 820.0v-8.899999999999999M737.92 573.0v8.899999999999999M737.92 820.0v-8.899999999999999M120.45 816.61h8.7M740.7 816.61h-8.7M120.45 813.42h8.7M740.7 813.42h-8.7M120.45 810.82h8.7M740.7 810.82h-8.7M120.45 808.61h8.7M740.7 808.61h-8.7M120.45 806.70h8.7M740.7 806.70h-8.7M120.45 805.02h8.7M740.7 805.02h-8.7M120.45 793.60h8.7M740.7 793.60h-8.7M120.45 787.80h8.7M740.7 787.80h-8.7M120.45 783.68h8.7M740.7 783.68h-8.7M120.45 780.49h8.7M740.7 780.49h-8.7M120.45 777.89h8.7M740.7 777.89h-8.7M120.45 775.68h8.7M740.7 775.68h-8.7M120.45 773.77h8.7M740.7 773.77h-8.7M120.45 772.09h8.7M740.7 772.09h-8.7M120.45 760.67h8.7M740.7 760.67h-8.7M120.45 754.87h8.7M740.7 754.87h-8.7M120.45 750.75h8.7M740.7 750.75h-8.7M120.45 747.56h8.7M740.7 747.56h-8.7M120.45 744.96h8.7M740.7 744.96h-8.7M120.45 742.75h8.7M740.7 742.75h-8.7M120.45 740.84h8.7M740.7 740.84h-8.7M120.45 739.16h8.7M740.7 739.16h-8.7M120.45 727.74h8.7M740.7 727.74h-8.7M120.45 721.94h8.7M740.7 721.94h-8.7M120.45 717.82h8.7M740.7 717.82h-8.7M120.45 714.63h8.7M740.7 714.63h-8.7M120.45 712.03h8.7M740.7 712.03h-8.7M120.45 709.82h8.7M740.7 709.82h-8.7M120.45 707.91h8.7M740.7 707.91h-8.7M120.45 706.23h8.7M740.7 706.23h-8.7M120.45 694.81h8.7M740.7 694.81h-8.7M120.45 689.01h8.7M740.7 689.01h-8.7M120.45 684.89h8.7M740.7 684.89h-8.7M120.45 681.70h8.7M740.7 681.70h-8.7M120.45 679.10h8.7M740.7 679.10h-8.7M120.45 676.89h8.7M740.7 676.89h-8.7M120.45 674.98h8.7M740.7 674.98h-8.7M120.45 673.30h8.7M740.7 673.30h-8.7M120.45 661.88h8.7M740.7 661.88h-8.7M120.45 656.08h8.7M740.7 656.08h-8.7M120.45 651.96h8.7M740.7 651.96h-8.7M120.45 648.77h8.7M740.7 648.77h-8.7M120.45 646.17h8.7M740.7 646.17h-8.7M120.45 643.96h8.7M740.7 643.96h-8.7M120.45 642.05h8.7M740.7 642.05h-8.7M120.45 640.37h8.7M740.7 640.37h-8.7M120.45 628.95h8.7M740.7 628.95h-8.7M120.45 623.15h8.7M740.7 623.15h-8.7M120.45 619.03h8.7M740.7 619.03h-8.7M120.45 615.84h8.7M740.7 615.84h-8.7M120.45 613.24h8.7M740.7 613.24h-8.7M120.45 611.03h8.7M740.7 611.03h-8.7M120.45 609.12h8.7M740.7 609.12h-8.7M120.45 607.44h8.7M740.7 607.44h-8.7M120.45 596.02h8.7M740.7 596.02h-8.7M120.45 590.22h8.7M740.7 590.22h-8.7M120.45 586.10h8.7M740.7 586.10h-8.7M120.45 582.91h8.7M740.7 582.91h-8.7M120.45 580.31h8.7M740.7 580.31h-8.7M120.45 578.10h8.7M740.7 578.10h-8.7M120.45 576.19h8.7M740.7 576.19h-8.7M120.45 574.51h8.7M740.7 574.51h-8.7" stroke="#000" stroke-width="1.8" fill="none"/>
<rect x="120.45" y="573.0" width="620.25" height="247.0" fill="none" stroke="#000" stroke-width="2.0"/>
<use href="#h0" transform="translate(47.72 812.76) scale(0.8390 0.8320)" stroke="#000" stroke-width="1.7"/>
<path d="M83.7 799.66H92.3" stroke="#000" stroke-width="1.7"/>
<use href="#h1" transform="translate(94.54 804.06) scale(0.5030 0.4988)" stroke="#000" stroke-width="1.7"/>
<use href="#h0" transform="translate(47.72 779.83) scale(0.8390 0.8320)" stroke="#000" stroke-width="1.7"/>
<path d="M83.7 766.73H92.3" stroke="#000" stroke-width="1.7"/>
<use href="#h2" transform="translate(94.54 771.13) scale(0.5030 0.4988)" stroke="#000" stroke-width="1.7"/>
<use href="#h0" transform="translate(47.72 746.90) scale(0.8390 0.8320)" stroke="#000" stroke-width="1.7"/>
<path d="M83.7 733.80H92.3" stroke="#000" stroke-width="1.7"/>
<use href="#h3" transform="translate(94.54 738.20) scale(0.5030 0.4988)" stroke="#000" stroke-width="1.7"/>
<use href="#h0" transform="translate(47.72 713.97) scale(0.8390 0.8320)" stroke="#000" stroke-width="1.7"/>
<path d="M83.7 700.87H92.3" stroke="#000" stroke-width="1.7"/>
<use href="#h4" transform="translate(94.54 705.27) scale(0.5030 0.4988)" stroke="#000" stroke-width="1.7"/>
<use href="#h0" transform="translate(47.72 681.04) scale(0.8390 0.8320)" stroke="#000" stroke-width="1.7"/>
<path d="M83.7 667.94H92.3" stroke="#000" stroke-width="1.7"/>
<use href="#h5" transform="translate(95.04 672.34) scale(0.5030 0.4988)" stroke="#000" stroke-width="1.7"/>
<use href="#h0" transform="translate(47.72 648.11) scale(0.8390 0.8320)" stroke="#000" stroke-width="1.7"/>
<path d="M83.7 635.01H92.3" stroke="#000" stroke-width="1.7"/>
<use href="#h6" transform="translate(94.54 639.41) scale(0.5030 0.4988)" stroke="#000" stroke-width="1.7"/>
<use href="#h0" transform="translate(47.72 615.18) scale(0.8390 0.8320)" stroke="#000" stroke-width="1.7"/>
<path d="M83.7 602.08H92.3" stroke="#000" stroke-width="1.7"/>
<use href="#h7" transform="translate(94.54 606.48) scale(0.5030 0.4988)" stroke="#000" stroke-width="1.7"/>
<use href="#h8" transform="translate(159.23 704.45) scale(0.8390 0.8320)" stroke="#0000ff" stroke-width="1.7"/>
<use href="#h9" transform="translate(159.23 775.25) scale(0.8390 0.8320)" stroke="#00ffff" stroke-width="1.7"/>
<use href="#h10" transform="translate(539.37 699.05) scale(0.8390 0.8320)" stroke="#c408fa" stroke-width="1.7"/>
</g>
<use href="#h11" transform="translate(673.07 98.65) scale(0.8390 0.8320)" stroke="#000" stroke-width="1.7"/>
<use href="#h12" transform="translate(673.27 359.05) scale(0.8390 0.8320)" stroke="#000" stroke-width="1.7"/>
<use href="#h13" transform="translate(673.27 619.55) scale(0.8390 0.8320)" stroke="#000" stroke-width="1.7"/>
<use href="#h14" transform="translate(311.67 35.75) scale(0.8390 0.8320)" stroke="#000" stroke-width="1.7"/>
<use href="#h15" transform="translate(137.72 853.55) scale(0.8390 0.8320)" stroke="#000" stroke-width="1.7"/>
<use href="#h0" transform="translate(386.42 853.55) scale(0.8390 0.8320)" stroke="#000" stroke-width="1.7"/>
<use href="#h16" transform="translate(635.72 853.55) scale(0.8390 0.8320)" stroke="#000" stroke-width="1.7"/>
<use href="#h17" transform="translate(325.76 889.25) scale(0.8455 0.8320)" stroke="#000" stroke-width="1.7"/>
<use href="#h18" transform="translate(26.45 535.83) rotate(-90) scale(0.8390 0.8320)" stroke="#000" stroke-width="1.7"/>
</svg></body></html>
